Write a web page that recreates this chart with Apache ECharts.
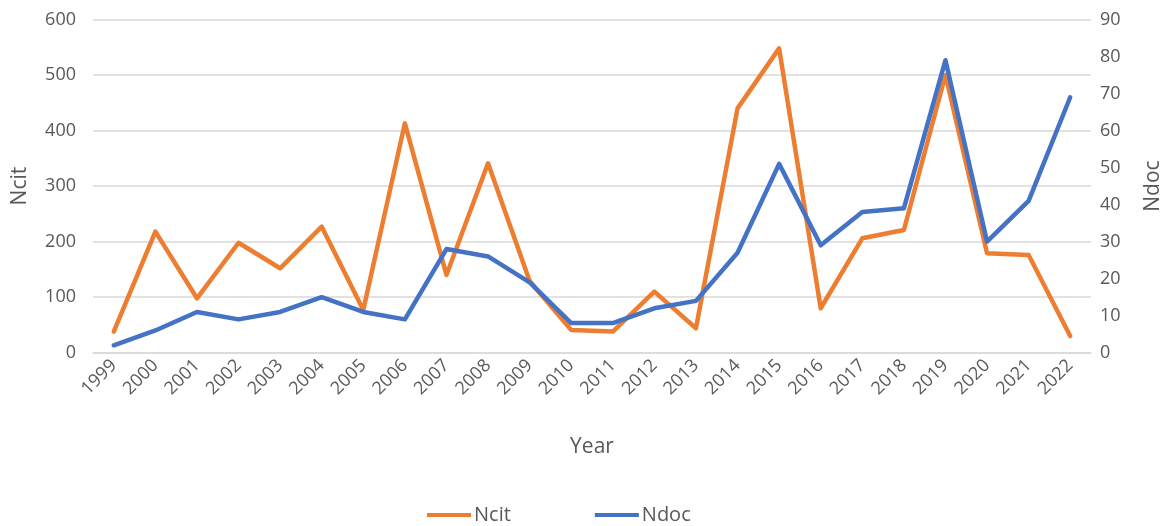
<!DOCTYPE html>
<html>
<head>
<meta charset="utf-8">
<script src="https://cdn.jsdelivr.net/npm/echarts@6/dist/echarts.min.js"></script>
<style>
  html, body { margin: 0; padding: 0; background: #fff; }
  #chart { width: 1172px; height: 526px; }
</style>
</head>
<body>
<div id="chart"></div>
<script>
// Years on the category axis
var years = ['1999','2000','2001','2002','2003','2004','2005','2006','2007','2008','2009','2010',
             '2011','2012','2013','2014','2015','2016','2017','2018','2019','2020','2021','2022'];
// Number of citations per year (left axis)
var ncit = [38, 218, 98, 198, 152, 227, 77, 413, 140, 341, 129, 41,
            38, 110, 44, 440, 548, 80, 206, 221, 500, 179, 176, 30];
// Number of documents per year (right axis)
var ndoc = [2, 6, 11, 9, 11, 15, 11, 9, 28, 26, 19, 8,
            8, 12, 14, 27, 51, 29, 38, 39, 79, 30, 41, 69];

var FONT = '"Open Sans", "Noto Sans", sans-serif';
var TXT = '#595959';

var chart = echarts.init(document.getElementById('chart'), null, { renderer: 'canvas' });
chart.setOption({
  animation: false,
  backgroundColor: '#ffffff',
  textStyle: { fontFamily: FONT, color: TXT },
  grid: { left: 93, right: 80, top: 19.5, bottom: 173.3, containLabel: false },
  legend: {
    top: 500,
    left: 422,
    icon: 'rect',
    itemWidth: 44,
    itemHeight: 4,
    itemGap: 84,
    textStyle: { fontFamily: FONT, fontSize: 20, color: TXT, padding: [0, 0, 0, -2] },
    data: ['Ncit', 'Ndoc']
  },
  xAxis: {
    type: 'category',
    data: years,
    boundaryGap: true,
    name: 'Year',
    nameLocation: 'middle',
    nameGap: 84,
    nameTextStyle: { fontFamily: FONT, fontSize: 21, color: TXT },
    axisLine: { show: true, lineStyle: { color: '#d9d9d9', width: 1.5 } },
    axisTick: { show: false },
    axisLabel: { rotate: 45, fontFamily: FONT, fontSize: 18, color: TXT, margin: 10, interval: 0 }
  },
  yAxis: [
    {
      type: 'value',
      min: 0, max: 600, interval: 100,
      name: 'Ncit',
      nameLocation: 'middle',
      nameGap: 62,
      nameTextStyle: { fontFamily: FONT, fontSize: 21, color: TXT },
      axisLine: { show: false },
      axisTick: { show: false },
      axisLabel: { fontFamily: FONT, fontSize: 18, color: TXT, margin: 17 },
      splitLine: { lineStyle: { color: '#d9d9d9', width: 1.5 } }
    },
    {
      type: 'value',
      min: 0, max: 90, interval: 10,
      name: 'Ndoc',
      nameLocation: 'middle',
      nameGap: 52,
      nameRotate: 90,
      nameTextStyle: { fontFamily: FONT, fontSize: 21, color: TXT },
      axisLine: { show: false },
      axisTick: { show: false },
      axisLabel: { fontFamily: FONT, fontSize: 18, color: TXT, margin: 9 },
      splitLine: { show: false }
    }
  ],
  series: [
    {
      name: 'Ncit',
      type: 'line',
      yAxisIndex: 0,
      data: ncit,
      symbol: 'none',
      color: '#ED7D31',
      lineStyle: { width: 4.5, color: '#ED7D31', cap: 'round', join: 'round' },
      z: 2
    },
    {
      name: 'Ndoc',
      type: 'line',
      yAxisIndex: 1,
      data: ndoc,
      symbol: 'none',
      color: '#4472C4',
      lineStyle: { width: 4.5, color: '#4472C4', cap: 'round', join: 'round' },
      z: 3
    }
  ]
});
</script>
</body>
</html>
